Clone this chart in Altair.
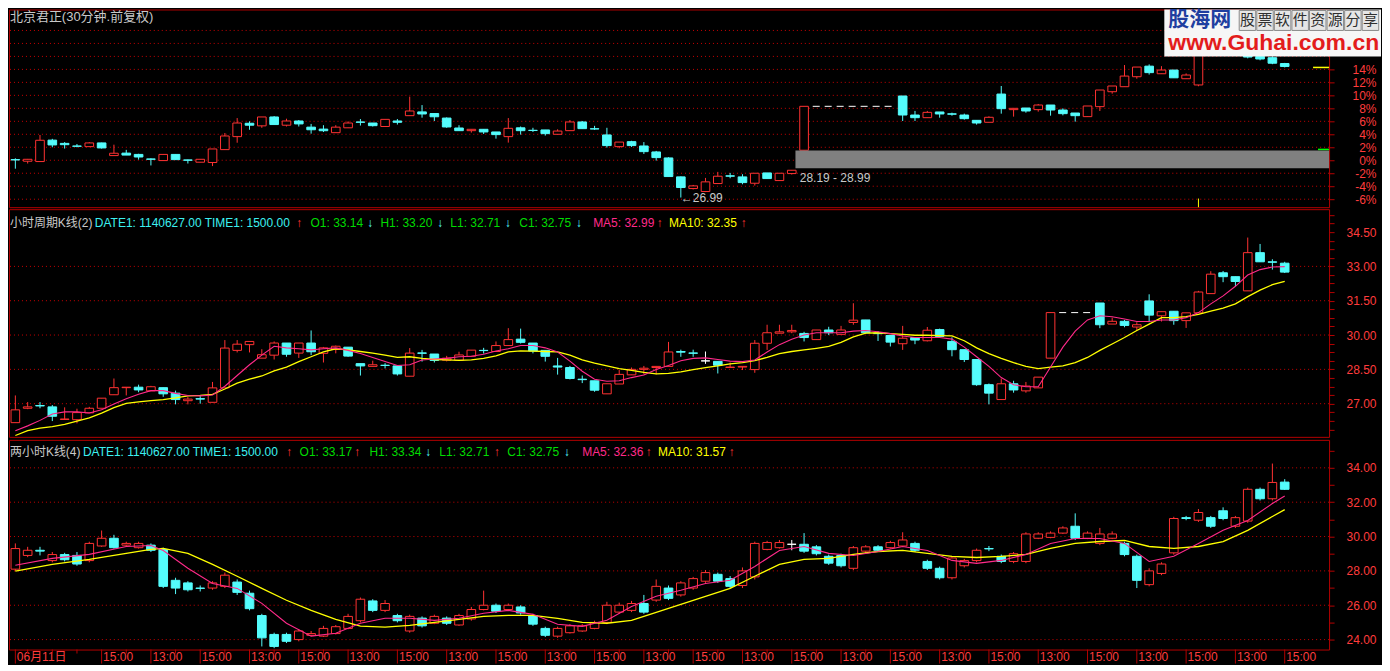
import altair as alt
import pandas as pd

# ======================= DATA =======================
# ---- top panel: 30-minute candles (percent change) ----
top_open = [0.1, -0.15, -0.2, 3.1, 2.6, 2.2, 2.1, 2.67, 0.72, 1.1,
            0.9, 0.2, -0.05, 0.9, 0.05, -0.3, -0.35, 1.64, 3.64, 5.7,
            5.3, 6.67, 5.4, 6.05, 5.1, 4.8, 4.25, 5.0, 5.9, 5.74,
            5.2, 6.05, 6.87, 7.45, 7.2, 6.5, 4.97, 4.56, 4.77, 4.36,
            3.64, 5.0, 4.62, 4.67, 4.0, 4.56, 5.9, 4.85, 3.9, 2.1,
            2.87, 2.2, 1.28, 0.36, -2.56, -4.36, -4.82, -3.59, -2.4, -2.56,
            -3.54, -1.95, -3.13, -2.05, 1.54, None, None, None, None, None,
            None, None, 9.9, 6.97, 6.56, 7.44, 7.15, 6.97, 6.15, 5.85,
            10.2, 7.8, 8.05, 7.8, 8.51, 7.74, 7.28, 6.72, 8.26, 10.56,
            11.33, 12.87, 14.5, 13.33, 13.9, 12.56, 11.6, 16.8, 18.0, 17.2,
            16.2, 16.0, 15.8, 14.9]
top_high = [0.3, 0.2, 3.9, 3.3, 2.8, 2.5, 2.8, 2.7, 2.4, 1.6,
            1.0, 0.3, 0.9, 0.9, 0.1, 0.15, 1.74, 4.2, 6.5, 6.0,
            6.67, 6.8, 6.4, 6.2, 5.6, 5.4, 5.4, 6.0, 6.35, 5.74,
            6.3, 6.35, 9.8, 8.5, 7.2, 6.6, 5.4, 4.77, 4.77, 4.36,
            6.5, 5.2, 5.0, 4.67, 4.77, 6.2, 6.05, 5.3, 5.0, 2.8,
            3.0, 2.8, 1.44, 0.46, -2.5, -3.8, -2.72, -1.79, -1.95, -2.15,
            -2.0, -1.95, -2.0, -1.54, 8.31, None, None, None, None, None,
            None, None, 9.9, 7.6, 7.6, 7.44, 7.33, 7.18, 6.15, 6.77,
            11.44, 8.0, 8.05, 8.67, 8.51, 8.0, 7.28, 8.36, 10.82, 11.44,
            14.67, 14.36, 14.77, 14.5, 13.9, 13.38, 16.8, 18.2, 18.3, 17.6,
            16.6, 16.2, 16.0, 15.0]
top_low = [-1.3, -0.5, -0.2, 2.0, 1.8, 2.0, 2.1, 1.8, 0.7, 0.8,
           0.1, -0.8, -0.05, 0.1, -0.5, -0.3, -0.9, 1.64, 2.7, 4.7,
           5.0, 5.5, 5.2, 5.2, 4.1, 4.35, 4.25, 5.0, 5.35, 5.2,
           5.2, 5.5, 6.87, 6.56, 6.05, 5.0, 4.56, 4.26, 4.05, 3.33,
           2.72, 3.95, 4.36, 3.8, 4.0, 4.56, 4.87, 4.67, 1.95, 1.85,
           2.05, 0.97, -0.05, -2.51, -5.74, -4.5, -4.9, -3.59, -2.77, -3.7,
           -3.9, -2.82, -3.13, -2.2, 1.54, None, None, None, None, None,
           None, None, 6.05, 6.05, 6.56, 6.56, 6.87, 6.26, 5.49, 5.85,
           7.18, 6.72, 7.33, 7.49, 6.87, 6.92, 5.95, 6.72, 7.59, 10.26,
           11.33, 12.56, 13.2, 13.33, 12.7, 12.56, 11.4, 16.5, 17.0, 16.3,
           15.7, 15.4, 14.8, 14.3]
top_close = [0.05, 0.15, 3.08, 2.36, 2.4, 2.15, 2.67, 1.9, 1.08, 0.8,
             0.5, 0.15, 0.9, 0.1, 0.0, 0.15, 1.74, 3.74, 5.74, 5.4,
             6.67, 5.5, 6.05, 5.6, 4.7, 4.55, 5.1, 5.74, 5.85, 5.33,
             6.3, 5.85, 7.59, 7.13, 6.7, 5.13, 4.56, 4.77, 4.36, 3.95,
             4.92, 4.56, 4.58, 4.1, 4.5, 5.9, 4.87, 4.82, 2.26, 2.8,
             2.26, 1.33, 0.41, -2.51, -4.2, -3.95, -3.33, -2.46, -2.45, -3.44,
             -2.0, -2.82, -2.0, -1.54, 8.31, None, None, None, None, None,
             None, None, 6.97, 6.56, 7.38, 7.13, 7.1, 6.41, 5.74, 6.62,
             7.95, 8.0, 7.59, 8.51, 7.74, 7.18, 6.87, 8.36, 10.82, 11.44,
             12.97, 14.36, 13.5, 13.9, 12.7, 13.13, 16.8, 18.0, 17.2, 16.5,
             15.9, 15.6, 14.95, 14.45]

# ---- middle panel: hourly candles ----
mid_open = [26.17, 26.8, 26.92, 26.86, 26.31, 26.3, 26.6, 26.8, 27.39, 27.7,
            27.72, 27.56, 27.7, 27.46, 27.13, 27.22, 27.06, 27.69, 29.33, 29.58,
            28.99, 29.12, 29.65, 29.21, 29.65, 29.2, 29.37, 29.47, 28.75, 28.63,
            28.68, 28.65, 28.2, 29.22, 29.17, 28.9, 28.9, 29.07, 29.33, 29.28,
            29.54, 29.82, 29.65, 29.33, 28.65, 28.58, 28.07, 28.0, 27.43, 27.86,
            28.26, 28.5, 28.58, 28.63, 29.28, 29.22, 28.87, 28.85, 28.58, 28.6,
            28.49, 29.64, 30.08, 30.14, 30.07, 29.8, 30.22, 30.03, 30.55, 30.66,
            30.08, 29.98, 29.62, 29.89, 29.75, 30.24, 29.72, 29.36, 28.93, 27.83,
            27.18, 27.87, 27.56, 27.69, 28.99, None, None, None, 31.4, 30.48,
            30.6, 30.35, 31.49, 30.84, 31.04, 30.63, 30.97, 31.81, 32.72, 32.55,
            31.93, 33.6, 33.2, 33.14]
mid_high = [27.36, 27.07, 27.07, 26.94, 26.84, 26.78, 26.86, 27.24, 28.1, 27.72,
            27.83, 27.78, 27.7, 27.57, 27.3, 27.33, 27.95, 29.78, 29.78, 29.72,
            29.38, 29.72, 29.65, 29.65, 30.2, 29.48, 29.54, 29.47, 28.75, 28.88,
            28.77, 28.65, 29.43, 29.35, 29.17, 29.09, 29.27, 29.34, 29.44, 29.72,
            30.3, 30.28, 29.65, 29.33, 29.0, 28.65, 28.23, 28.0, 27.87, 28.47,
            28.58, 28.65, 28.63, 29.7, 29.36, 29.36, 29.28, 28.85, 28.8, 28.63,
            29.78, 30.45, 30.45, 30.45, 30.14, 30.22, 30.36, 30.4, 31.39, 30.66,
            30.17, 29.98, 30.4, 29.89, 30.35, 30.28, 29.9, 29.36, 28.93, 27.88,
            28.1, 28.0, 27.95, 28.16, 30.98, None, None, None, 31.4, 30.76,
            30.66, 30.56, 31.78, 31.02, 31.04, 30.97, 31.93, 32.79, 32.8, 32.55,
            34.26, 33.98, 33.31, 33.2]
mid_low = [26.17, 26.76, 26.8, 26.24, 26.31, 26.14, 26.6, 26.8, 27.39, 27.36,
           27.5, 27.56, 27.3, 26.97, 26.97, 27.0, 27.06, 27.69, 29.24, 29.24,
           28.99, 28.93, 29.05, 29.0, 29.12, 28.8, 29.2, 29.05, 28.23, 28.63,
           28.54, 28.23, 28.2, 28.84, 28.8, 28.85, 28.9, 29.07, 29.19, 29.28,
           29.54, 29.63, 29.2, 28.84, 28.27, 28.06, 27.9, 27.52, 27.43, 27.86,
           28.26, 28.28, 28.28, 28.63, 29.05, 29.05, 28.74, 28.32, 28.58, 28.47,
           28.35, 29.35, 30.08, 30.08, 29.72, 29.8, 30.0, 30.03, 30.45, 30.06,
           29.74, 29.5, 29.35, 29.6, 29.72, 29.94, 29.07, 28.82, 27.78, 26.97,
           27.18, 27.48, 27.48, 27.69, 28.99, None, None, None, 30.3, 30.48,
           30.34, 30.2, 30.56, 30.59, 30.45, 30.31, 30.97, 31.81, 32.31, 32.13,
           31.93, 33.2, 32.86, 32.71]
mid_close = [26.73, 26.86, 26.9, 26.45, 26.33, 26.61, 26.8, 27.24, 27.7, 27.72,
             27.6, 27.74, 27.43, 27.18, 27.2, 27.2, 27.69, 29.43, 29.6, 29.72,
             29.14, 29.65, 29.16, 29.65, 29.27, 29.44, 29.51, 29.08, 28.65, 28.7,
             28.67, 28.3, 29.21, 29.2, 28.89, 28.99, 29.13, 29.34, 29.32, 29.54,
             29.8, 29.68, 29.3, 29.07, 28.6, 28.1, 28.05, 27.59, 27.87, 28.28,
             28.5, 28.55, 28.63, 29.26, 29.25, 29.2, 28.87, 28.68, 28.6, 28.63,
             29.64, 30.1, 30.14, 30.2, 29.89, 30.22, 30.1, 30.22, 30.65, 30.1,
             30.06, 29.69, 29.86, 29.78, 30.21, 29.94, 29.36, 28.93, 27.83, 27.46,
             27.87, 27.6, 27.77, 28.16, 30.98, None, None, None, 30.45, 30.6,
             30.42, 30.45, 30.87, 31.02, 30.63, 30.97, 31.88, 32.66, 32.55, 32.34,
             33.6, 33.2, 33.18, 32.75]
mid_ma5 = [25.82, 26.03, 26.27, 26.55, 26.64, 26.64, 26.59, 26.73, 26.99, 27.22,
           27.41, 27.57, 27.57, 27.45, 27.36, 27.34, 27.38, 27.76, 28.23, 28.70,
           29.12, 29.51, 29.44, 29.40, 29.35, 29.40, 29.44, 29.33, 29.19, 29.02,
           28.84, 28.67, 28.70, 28.91, 28.95, 28.98, 29.05, 29.07, 29.16, 29.30,
           29.40, 29.54, 29.54, 29.44, 29.26, 28.86, 28.42, 28.07, 27.98, 28.00,
           28.14, 28.25, 28.49, 28.67, 28.88, 28.98, 29.00, 28.93, 28.86, 28.84,
           28.91, 29.26, 29.58, 29.82, 30.00, 30.10, 30.10, 30.10, 30.17, 30.20,
           30.14, 30.06, 29.96, 29.89, 29.89, 29.89, 29.82, 29.47, 29.05, 28.63,
           28.14, 27.83, 27.74, 27.74, 28.60, 29.47, 30.17, 30.66, 30.84, 30.80,
           30.70, 30.59, 30.59, 30.66, 30.66, 30.76, 30.98, 31.36, 31.71, 32.13,
           32.62, 32.86, 32.97, 32.99]
mid_ma10 = [25.61, 25.82, 25.93, 26.00, 26.10, 26.24, 26.38, 26.59, 26.83, 27.01,
            27.08, 27.13, 27.18, 27.25, 27.34, 27.36, 27.41, 27.64, 27.90, 28.07,
            28.21, 28.43, 28.60, 28.84, 29.05, 29.26, 29.40, 29.35, 29.28, 29.21,
            29.12, 29.02, 29.05, 28.98, 28.93, 28.91, 28.89, 28.91, 28.98, 29.09,
            29.26, 29.31, 29.30, 29.28, 29.26, 29.12, 28.91, 28.77, 28.65, 28.53,
            28.46, 28.37, 28.30, 28.32, 28.39, 28.49, 28.58, 28.65, 28.74, 28.79,
            28.88, 29.02, 29.19, 29.28, 29.35, 29.42, 29.50, 29.68, 29.92, 30.08,
            30.10, 30.06, 30.03, 29.99, 29.99, 29.97, 29.96, 29.75, 29.44, 29.19,
            28.98, 28.79, 28.63, 28.53, 28.60, 28.65, 28.79, 29.02, 29.33, 29.61,
            29.89, 30.20, 30.48, 30.76, 30.76, 30.80, 30.90, 31.04, 31.18, 31.36,
            31.68, 31.96, 32.20, 32.35]

# ---- bottom panel: 2-hour candles ----
bot_open = [28.1, 28.9, 29.2, 28.6, 28.95, 28.9, 28.6, 29.45, 29.9, 29.5,
            29.35, 29.5, 29.25, 27.45, 27.3, 27.0, 27.0, 27.1, 27.35, 26.7,
            25.4, 24.3, 24.3, 24.0, 24.25, 24.2, 24.35, 24.65, 25.1, 26.25,
            25.7, 25.4, 24.5, 25.25, 24.95, 25.25, 24.85, 25.2, 25.75, 26.0,
            25.75, 25.9, 25.4, 24.65, 24.2, 24.4, 24.5, 24.65, 25.0, 25.6,
            25.7, 26.1, 26.3, 27.0, 26.6, 27.0, 27.4, 27.8, 27.55, 27.15,
            27.65, 29.25, 29.35, 29.55, 29.55, 29.4, 28.85, 28.9, 28.15, 29.15,
            29.4, 29.35, 29.45, 29.6, 28.55, 28.15, 27.6, 28.3, 28.6, 29.3,
            28.85, 28.55, 28.55, 29.9, 29.95, 30.2, 30.6, 29.9, 29.6, 29.9,
            29.6, 28.85, 27.2, 27.85, 29.05, 31.1, 30.95, 31.1, 31.5, 30.6,
            30.9, 32.75, 32.2, 33.17]
bot_high = [29.6, 29.4, 29.4, 29.1, 29.05, 29.1, 29.7, 30.35, 30.1, 29.7,
            29.7, 29.6, 29.35, 27.6, 27.4, 27.15, 27.4, 27.9, 27.5, 26.85,
            25.5, 24.4, 24.4, 24.6, 24.5, 24.8, 24.85, 25.5, 26.45, 26.35,
            26.3, 25.5, 25.45, 25.35, 25.45, 25.35, 25.5, 25.9, 26.85, 26.1,
            26.1, 26.0, 25.5, 24.75, 24.75, 24.9, 24.9, 25.1, 26.2, 26.15,
            26.25, 26.6, 27.5, 27.15, 27.4, 27.65, 28.05, 27.9, 27.7, 28.2,
            29.7, 29.75, 29.8, 29.8, 30.2, 29.5, 28.95, 29.0, 29.45, 29.5,
            29.5, 29.75, 30.25, 29.7, 28.65, 28.25, 28.85, 28.7, 29.3, 29.45,
            28.95, 29.1, 30.25, 30.25, 30.3, 30.6, 31.35, 30.3, 30.5, 30.3,
            29.7, 28.95, 28.15, 28.5, 31.15, 31.2, 31.6, 31.2, 31.7, 31.2,
            32.85, 32.85, 34.25, 33.34]
bot_low = [28.0, 28.8, 28.9, 28.5, 28.55, 28.3, 28.5, 29.4, 29.3, 29.4,
           29.3, 29.1, 27.0, 26.65, 26.8, 26.8, 26.9, 27.0, 26.6, 25.7,
           23.6, 23.5, 23.8, 23.9, 24.2, 24.15, 24.3, 24.6, 25.0, 25.6,
           25.6, 25.0, 24.4, 24.7, 24.9, 24.85, 24.8, 25.1, 25.7, 25.55,
           25.7, 25.45, 24.8, 24.15, 24.1, 24.35, 24.45, 24.6, 24.9, 25.5,
           25.6, 25.5, 26.2, 26.3, 26.5, 26.9, 27.3, 27.3, 27.0, 27.0,
           27.5, 29.2, 29.3, 29.2, 29.05, 28.9, 28.35, 28.2, 28.05, 29.05,
           29.1, 29.3, 29.4, 29.1, 28.05, 27.5, 27.5, 28.2, 28.5, 29.15,
           28.45, 28.45, 28.45, 29.85, 29.9, 30.15, 29.8, 29.85, 29.5, 29.85,
           28.85, 27.0, 27.1, 27.75, 28.95, 30.95, 30.85, 30.5, 30.95, 30.5,
           30.8, 32.1, 32.1, 32.71]
bot_close = [29.3, 29.2, 29.15, 28.95, 28.65, 28.4, 29.6, 29.9, 29.35, 29.6,
             29.6, 29.2, 27.1, 27.0, 26.9, 26.98, 27.3, 27.75, 26.75, 25.8,
             24.1, 23.6, 23.9, 24.5, 24.35, 24.65, 24.75, 25.35, 26.35, 25.7,
             26.1, 25.1, 25.35, 24.8, 25.35, 24.95, 25.4, 25.75, 26.0, 25.65,
             26.0, 25.55, 24.9, 24.25, 24.65, 24.8, 24.8, 25.0, 26.0, 26.0,
             26.1, 25.6, 27.1, 26.4, 27.3, 27.55, 27.9, 27.4, 27.1, 28.0,
             29.6, 29.65, 29.65, 29.55, 29.15, 29.0, 28.45, 28.3, 29.35, 29.4,
             29.2, 29.65, 29.8, 29.2, 28.15, 27.6, 28.75, 28.6, 29.2, 29.28,
             28.55, 29.0, 30.15, 30.15, 30.2, 30.5, 29.9, 30.2, 30.15, 30.15,
             28.95, 27.45, 28.0, 28.4, 31.05, 31.05, 31.4, 30.6, 31.05, 31.1,
             32.75, 32.2, 33.15, 32.75]
bot_ma_idx = [0, 3, 6, 9, 11, 12] + list(range(14, 103, 2)) + [103]
bot_ma5 = [28.33, 28.73, 28.96, 29.42, 29.48, 29.19, 28.15, 27.27, 26.98, 26.11,
           24.95, 24.2, 24.37, 24.95, 25.24, 25.24, 25.12, 25.24, 25.53, 25.7,
           25.47, 24.89, 24.77, 25.12, 25.93, 26.52, 26.87, 27.27, 27.45, 28.26,
           29.19, 29.42, 29.02, 28.9, 29.13, 29.42, 29.19, 28.61, 28.44, 28.61,
           28.96, 29.6, 29.89, 29.89, 29.6, 28.55, 28.85, 29.6, 30.36, 30.94,
           31.92, 32.36]
bot_ma10 = [27.98, 28.38, 28.67, 29.02, 29.25, 29.31, 29.02, 28.38, 27.69, 26.98,
            26.29, 25.7, 25.18, 24.78, 24.72, 24.83, 25.0, 25.18, 25.35, 25.41,
            25.41, 25.24, 25.0, 24.95, 25.12, 25.59, 26.05, 26.52, 26.98, 27.69,
            28.38, 28.67, 28.73, 28.96, 29.13, 29.19, 29.02, 28.84, 28.78, 28.84,
            28.96, 29.31, 29.6, 29.71, 29.77, 29.42, 29.31, 29.42, 29.71, 30.36,
            31.17, 31.57]

# x-axis labels (bar index of label ticks)
xlab_bars = sorted([0] + list(range(7, 104, 8)) + list(range(11, 104, 8)))
xminor_bars = [i for i in range(1, 104, 2) if i not in xlab_bars]

# grid / axis tick values
top_grid = list(range(-6, 21, 2))
top_ticks = list(range(-6, 15, 2))
mid_grid = [27.0, 28.5, 30.0, 31.5, 33.0]
mid_ticks = [25.875 + 0.375 * k for k in range(26)]
bot_grid = [24, 26, 28, 30, 32, 34]
bot_ticks = list(range(24, 36))

# annotations (top panel, data units)
gray_band = dict(x1=63.3, x2=106.6, y1=-1.22, y2=1.52)
band_label = dict(x=63.65, y=-2.74, t="28.19 - 28.99")
low_label = dict(x=54.0, y=-5.78, t="\u219026.99")
top_gap = dict(x1=64.7, x2=71.3, y=8.31)
mid_gap = dict(x1=84.7, x2=87.4, y=30.98)

# header texts: (text, x px, colour key)
top_title = [("北京君正(30分钟.前复权)", 1, "grey")]
mid_header = [("小时周期K线(2)", 1, "grey"), ("DATE1: 1140627.00 TIME1: 1500.00", 86, "hc"),
              ("\u2191", 288, "red"), ("O1: 33.14", 302, "green"), ("\u2193", 359, "cyan"),
              ("H1: 33.20", 372, "green"), ("\u2193", 429, "cyan"), ("L1: 32.71", 442, "green"),
              ("\u2193", 497, "cyan"), ("C1: 32.75", 511, "green"), ("\u2193", 568, "cyan"),
              ("MA5: 32.99", 585, "pink"), ("\u2191", 649, "red"), ("MA10: 32.35", 661, "yellow"),
              ("\u2191", 733, "red")]
bot_header = [("两小时K线(4)", 1, "grey"), ("DATE1: 1140627.00 TIME1: 1500.00", 74, "hc"),
              ("\u2191", 278, "red"), ("O1: 33.17", 291, "green"), ("\u2191", 346, "red"),
              ("H1: 33.34", 361, "green"), ("\u2193", 417, "cyan"), ("L1: 32.71", 431, "green"),
              ("\u2191", 486, "red"), ("C1: 32.75", 499, "green"), ("\u2193", 556, "cyan"),
              ("MA5: 32.36", 574, "pink"), ("\u2191", 638, "red"), ("MA10: 31.57", 650, "yellow"),
              ("\u2191", 721, "red")]

# ======================= STYLE =======================
W, HT, HM, HB = 1322, 198, 228, 210
RED = "#ff3232"; CYAN = "#54fcfc"; WHITE = "#ffffff"
PINK = "#ff2a8a"; YEL = "#ffff00"; GREEN = "#00dc00"; HCYAN = "#3cf0f0"
GRID = "#c80000"; AXL = "#ff3c3c"; BORDER = "#b40000"; GREY = "#c8c8c8"
FONT = "Liberation Sans, Noto Sans CJK SC, DejaVu Sans"
COLS = {"grey": GREY, "hc": HCYAN, "red": RED, "green": GREEN, "cyan": CYAN,
        "pink": PINK, "yellow": YEL}

XD = [-0.515, 106.6]
TD = [-7.23, 23.23]
MD = [25.55, 35.5]
BD = [23.42, 35.63]
XS = alt.Scale(domain=XD, nice=False, zero=False)
YT = alt.Scale(domain=TD, nice=False, zero=False)
YM = alt.Scale(domain=MD, nice=False, zero=False)
YB = alt.Scale(domain=BD, nice=False, zero=False)
FILL = alt.Scale(domain=["up", "down", "flat"], range=["#000000", CYAN, WHITE])
STRK = alt.Scale(domain=["up", "down", "flat"], range=[RED, CYAN, WHITE])


def px2x(px):
    return XD[0] + px * (XD[1] - XD[0]) / W


def py2y(py, dom, h):
    return dom[1] - py * (dom[1] - dom[0]) / h


def yaxis(values, expr):
    return alt.Axis(orient="right", values=values, labelExpr=expr, grid=False,
                    domain=False, ticks=True, tickColor=BORDER, tickSize=5,
                    labelColor=AXL, labelFont=FONT, labelFontSize=12, labelAlign="right",
                    labelBaseline="middle", labelPadding=42, labelOverlap=False,
                    labelFlush=False)


AX_T = yaxis(top_ticks, "datum.value + '%'")
AX_M = yaxis(mid_ticks, "abs(datum.value - 1.5 * round(datum.value / 1.5)) < 0.01 ? "
                        "format(datum.value, '.2f') : ''")
AX_B = yaxis(bot_ticks, "datum.value % 2 == 0 ? format(datum.value, '.2f') : ''")
AX_X = alt.Axis(orient="bottom", values=xlab_bars,
                labelExpr="datum.value == 0 ? '06月11日' : (datum.value % 8 == 7 ? '15:00' : '13:00')",
                grid=False, domain=False, ticks=False, labelColor=AXL, labelFont=FONT,
                labelFontSize=12, labelAlign="left", labelPadding=2, labelOffset=1,
                labelOverlap=False, labelFlush=False)


def frame(o, h, l, c):
    rows = []
    for i, (oo, hh, ll, cc) in enumerate(zip(o, h, l, c)):
        if oo is None:
            continue
        d = "up" if cc > oo else ("down" if cc < oo else "flat")
        rows.append(dict(i=i, o=oo, h=hh, l=ll, c=cc, lo=min(oo, cc), hi=max(oo, cc), d=d))
    return pd.DataFrame(rows)


def X(field, xa):
    return alt.X(field, scale=XS, axis=xa, title=None)


def Y(field, ys, ya):
    return alt.Y(field, scale=ys, axis=ya, title=None)


def grid_layer(vals, ys, ya):
    return alt.Chart(pd.DataFrame({"v": vals})).mark_rule(
        color=GRID, strokeDash=[1, 3], strokeWidth=1).encode(y=Y("v:Q", ys, ya))


def candle_layers(df, ys, ya, xa):
    wick = alt.Chart(df).mark_rule(strokeWidth=1).encode(
        x=X("i:Q", xa), y=Y("l:Q", ys, ya), y2="h:Q",
        stroke=alt.Stroke("d:N", scale=STRK, legend=None))
    body = alt.Chart(df).transform_calculate(
        xl="datum.i - 0.35", xr="datum.i + 0.35").mark_rect(strokeWidth=1).encode(
        x=X("xl:Q", xa), x2="xr:Q", y=Y("lo:Q", ys, ya), y2="hi:Q",
        fill=alt.Fill("d:N", scale=FILL, legend=None),
        stroke=alt.Stroke("d:N", scale=STRK, legend=None))
    return [wick, body]


def ma_layer(idx, vals, ys, ya, xa, color, sw):
    return alt.Chart(pd.DataFrame({"i": idx, "v": vals})).mark_line(
        color=color, strokeWidth=sw).encode(x=X("i:Q", xa), y=Y("v:Q", ys, ya))


def header_layer(items, py, dom, h, ys, ya, xa, size=12):
    df = pd.DataFrame([dict(t=t, x=px2x(x), y=py2y(py, dom, h), col=COLS[k])
                       for t, x, k in items])
    return alt.Chart(df).mark_text(align="left", baseline="middle", font=FONT,
                                   fontSize=size).encode(
        x=X("x:Q", xa), y=Y("y:Q", ys, ya), text="t:N",
        color=alt.Color("col:N", scale=None))


# ======================= TOP PANEL =======================
tdf = frame(top_open, top_high, top_low, top_close)
top_layers = [grid_layer(top_grid, YT, AX_T)]
top_layers += candle_layers(tdf, YT, AX_T, None)
top_layers.append(alt.Chart(pd.DataFrame([gray_band])).mark_rect(color="#808080").encode(
    x=X("x1:Q", None), x2="x2:Q", y=Y("y1:Q", YT, AX_T), y2="y2:Q"))
top_layers.append(alt.Chart(pd.DataFrame([band_label, low_label])).mark_text(
    align="left", baseline="middle", font=FONT, fontSize=12, color=GREY).encode(
    x=X("x:Q", None), y=Y("y:Q", YT, AX_T), text="t:N"))
top_layers.append(alt.Chart(pd.DataFrame([top_gap])).mark_rule(
    color=WHITE, strokeDash=[7, 5], strokeWidth=1).encode(
    x=X("x1:Q", None), x2="x2:Q", y=Y("y:Q", YT, AX_T)))
marks_h = pd.DataFrame([dict(x1=105.3, x2=106.6, y=14.3, c=YEL),
                        dict(x1=105.7, x2=106.6, y=1.67, c="#00ff00")])
top_layers.append(alt.Chart(marks_h).mark_rule(strokeWidth=1.5).encode(
    x=X("x1:Q", None), x2="x2:Q", y=Y("y:Q", YT, AX_T), color=alt.Color("c:N", scale=None)))
top_layers.append(alt.Chart(pd.DataFrame([dict(x=96, y1=-5.9, y2=TD[0])])).mark_rule(
    color=YEL, strokeWidth=1).encode(x=X("x:Q", None), y=Y("y1:Q", YT, AX_T), y2="y2:Q"))
top_layers.append(header_layer(top_title, 8, TD, HT, YT, AX_T, None, 13))
# watermark logo (top-right)
logo_box = pd.DataFrame([dict(x1=px2x(1157), x2=px2x(1374), y1=py2y(0, TD, HT), y2=py2y(47, TD, HT))])
top_layers.append(alt.Chart(logo_box).mark_rect(fill="#f6f6f6").encode(
    x=X("x1:Q", None), x2="x2:Q", y=Y("y1:Q", YT, AX_T), y2="y2:Q"))
logo_chars = list("股票软件资源分享")
box_df = pd.DataFrame([dict(x1=px2x(1232 + 17.6 * k), x2=px2x(1232 + 17.6 * k + 16.5),
                            y1=py2y(1, TD, HT), y2=py2y(21, TD, HT),
                            xc=px2x(1232 + 17.6 * k + 8.25), yc=py2y(11, TD, HT), t=ch)
                       for k, ch in enumerate(logo_chars)])
top_layers.append(alt.Chart(box_df).mark_rect(fill="#e6e6e6", stroke="#8a8a8a", strokeWidth=1).encode(
    x=X("x1:Q", None), x2="x2:Q", y=Y("y1:Q", YT, AX_T), y2="y2:Q"))
top_layers.append(alt.Chart(box_df).mark_text(
    font="Noto Sans CJK SC", fontSize=15, color="#303030", align="center", baseline="middle").encode(
    x=X("xc:Q", None), y=Y("yc:Q", YT, AX_T), text="t:N"))
logo_t1 = pd.DataFrame([dict(t="股海网", x=px2x(1161), y=py2y(11, TD, HT))])
logo_t2 = pd.DataFrame([dict(t="www.Guhai.com.cn", x=px2x(1161), y=py2y(34, TD, HT))])
top_layers.append(alt.Chart(logo_t1).mark_text(
    align="left", baseline="middle", font=FONT, fontWeight="bold", fontSize=21, color="#1f3fa0").encode(
    x=X("x:Q", None), y=Y("y:Q", YT, AX_T), text="t:N"))
top_layers.append(alt.Chart(logo_t2).mark_text(
    align="left", baseline="middle", font=FONT, fontWeight="bold", fontSize=23, color="#e31c1c").encode(
    x=X("x:Q", None), y=Y("y:Q", YT, AX_T), text="t:N"))
top = alt.layer(*top_layers).properties(width=W, height=HT)

# ======================= MIDDLE PANEL =======================
mdf = frame(mid_open, mid_high, mid_low, mid_close)
mid_layers = [grid_layer(mid_grid, YM, AX_M)]
mid_layers += candle_layers(mdf, YM, AX_M, None)
mid_layers.append(alt.Chart(pd.DataFrame([mid_gap])).mark_rule(
    color=WHITE, strokeDash=[7, 5], strokeWidth=1).encode(
    x=X("x1:Q", None), x2="x2:Q", y=Y("y:Q", YM, AX_M)))
mid_layers.append(ma_layer(list(range(104)), mid_ma10, YM, AX_M, None, YEL, 1.3))
mid_layers.append(ma_layer(list(range(104)), mid_ma5, YM, AX_M, None, PINK, 1.1))
mid_layers.append(header_layer(mid_header, 14, MD, HM, YM, AX_M, None))
mid = alt.layer(*mid_layers).properties(width=W, height=HM)

# ======================= BOTTOM PANEL =======================
bdf = frame(bot_open, bot_high, bot_low, bot_close)
bot_layers = [grid_layer(bot_grid, YB, AX_B)]
bot_layers.append(alt.Chart(pd.DataFrame({"i": xlab_bars})).mark_rule(
    color=BORDER, strokeWidth=1).encode(
    x=X("i:Q", AX_X), y=alt.value(HB), y2=alt.value(HB + 14)))
bot_layers.append(alt.Chart(pd.DataFrame({"i": xminor_bars})).mark_rule(
    color=BORDER, strokeWidth=1).encode(
    x=X("i:Q", AX_X), y=alt.value(HB), y2=alt.value(HB + 4)))
bot_layers += candle_layers(bdf, YB, AX_B, AX_X)
bot_layers.append(ma_layer(bot_ma_idx, bot_ma10, YB, AX_B, AX_X, YEL, 1.3))
bot_layers.append(ma_layer(bot_ma_idx, bot_ma5, YB, AX_B, AX_X, PINK, 1.1))
bot_layers.append(header_layer(bot_header, 12, BD, HB, YB, AX_B, AX_X))
bot = alt.layer(*bot_layers).properties(width=W, height=HB)

chart = alt.vconcat(top, mid, bot, spacing=0).resolve_scale(
    x="independent", y="independent").properties(padding=0).configure(
    background="black").configure_view(stroke=BORDER, strokeWidth=1, fill="black")

chart.save("out.html", embed_options={"renderer": "svg", "actions": False})
